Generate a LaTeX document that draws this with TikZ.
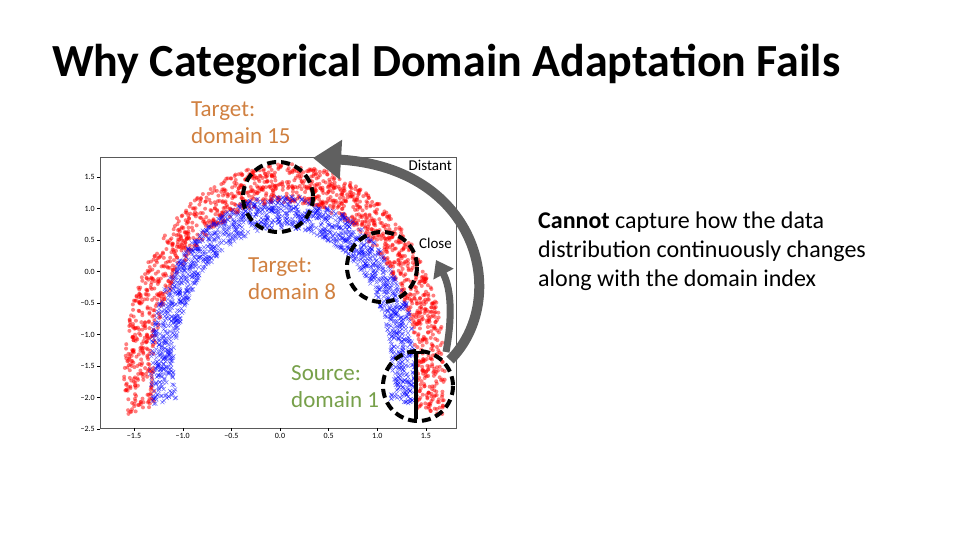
\documentclass[tikz,border=0pt]{standalone}
\usepackage{fontspec}
\setmainfont{Carlito}
\usetikzlibrary{arrows.meta}
\definecolor{tgt}{HTML}{D08040}
\definecolor{src}{HTML}{77A04A}
\definecolor{arr}{HTML}{606060}
\tikzset{
  ring/.style={draw=black,line width=4pt,dash pattern=on 9pt off 5pt},
  bigarrow/.style={draw=arr,line width=10pt,-{Triangle[length=28pt,width=38pt]}},
  lab/.style={font=\fontsize{23}{27}\selectfont,align=left,anchor=north west,inner sep=0pt},
  tick/.style={font=\fontsize{8}{9}\selectfont,inner sep=1pt}
}
\begin{document}
\begin{tikzpicture}[x=1pt,y=-1pt]
\useasboundingbox (0,0) rectangle (960,540);
\node[anchor=west,font=\fontsize{46}{52}\selectfont\bfseries,inner sep=0pt] (title) at (52,64) {Why Categorical Domain Adaptation Fails};
% axes
\begin{scope}
\clip (100,157) rectangle (456,428);
\pgfmathsetseed{7}
\foreach \i in {1,...,1600}{
  \pgfmathsetmacro\t{-12+204*rnd}
  \pgfmathsetmacro\r{0.93+0.21*rnd}
  \pgfmathsetmacro\px{280+97.3*(0.05+1.45*\r*cos(\t))}
  \pgfmathsetmacro\py{271.5-63*(-1.6+2.9*\r*sin(\t))}
  \fill[red,opacity=0.5] (\px,\py) circle (2);
}
\foreach \i in {1,...,1700}{
  \pgfmathsetmacro\t{-12+204*rnd}
  \pgfmathsetmacro\r{0.88+0.2*rnd}
  \pgfmathsetmacro\px{280+97.3*(0.03+1.27*\r*cos(\t))}
  \pgfmathsetmacro\py{271.5-63*(-1.55+2.55*\r*sin(\t))}
  \draw[blue,opacity=0.55,line width=0.5pt] (\px-2,\py-2) -- (\px+2,\py+2) (\px-2,\py+2) -- (\px+2,\py-2);
}
\end{scope}
\draw[gray!70!black,line width=0.6pt] (100,157) rectangle (456,428);
\foreach \v/\s in {-1.5/−1.5,-1.0/−1.0,-0.5/−0.5,0.0/0.0,0.5/0.5,1.0/1.0,1.5/1.5}{
  \draw (280+97.3*\v,428) -- ++(0,3);
  \node[tick,anchor=north] at (280+97.3*\v,432) {\s};
}
\foreach \v/\s in {1.5/1.5,1.0/1.0,0.5/0.5,0.0/0.0,-0.5/−0.5,-1.0/−1.0,-1.5/−1.5,-2.0/−2.0,-2.5/−2.5}{
  \draw (100,271.5-63*\v) -- ++(-3,0);
  \node[tick,anchor=east] at (96,271.5-63*\v) {\s};
}
% circles
\draw[ring] (278,197) circle (35) coordinate (c15);
\draw[ring] (382,267) circle (35) coordinate (c8);
\draw[ring] (418,386) circle (35) coordinate (c1);
\coordinate (lt) at (416,352);
\coordinate (lb) at (416,419);
\draw[line width=3.5pt] (lt) -- (lb);
\draw[line width=3pt] (408,352) -- (424,352);
% arrows
\coordinate (da) at (450,360);
\coordinate (dt) at (313,158);
\coordinate (ca) at (446,352);
\coordinate (ct) at (436,260);
\draw[bigarrow] (da) .. controls (510,300) and (480,168) .. (dt);
\draw[draw=arr,line width=7pt,-{Triangle[length=16pt,width=22pt]}] (ca) .. controls (452,320) and (452,290) .. (ct);
% labels
\node[lab,text=tgt] (l15) at (191,102) {Target:\\domain 15};
\node[lab,text=tgt] (l8) at (248,258) {Target:\\domain 8};
\node[lab,text=src] (l1) at (291,365) {Source:\\domain 1};
\node[anchor=north east,inner sep=0pt,font=\fontsize{15}{17}\selectfont] (dist) at (452,160) {Distant};
\node[anchor=north east,inner sep=0pt,font=\fontsize{15}{17}\selectfont] (cl) at (452,238) {Close};
\node[anchor=north west,inner sep=0pt,align=left,font=\fontsize{24}{29}\selectfont] (txt) at (538,212) {\textbf{Cannot} capture how the data\\distribution continuously changes\\along with the domain index};
\end{tikzpicture}
\end{document}
